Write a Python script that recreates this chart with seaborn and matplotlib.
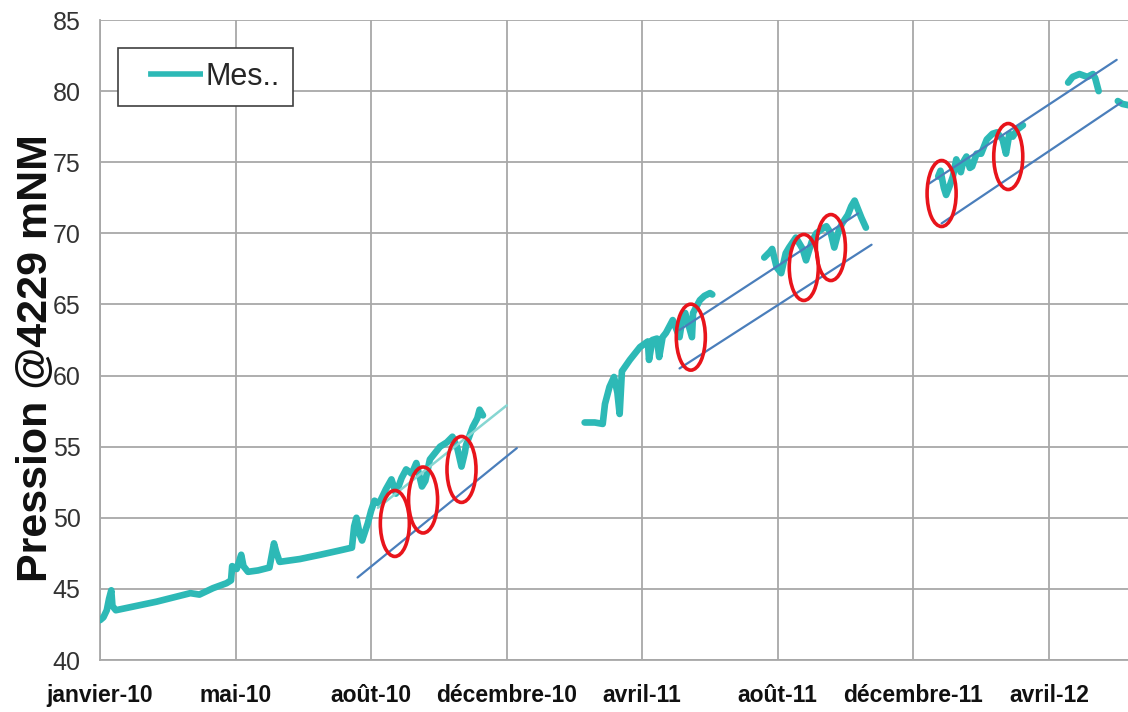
"""
Pression @4229 mNM - mesures et droites de tendance
"""

import pandas as pd
import matplotlib
matplotlib.use("Agg")
import matplotlib.pyplot as plt
import matplotlib.dates as mdates
from matplotlib.lines import Line2D
from matplotlib.patches import Ellipse
import seaborn as sns

sns.set_style("white")
plt.rcParams['font.family'] = ['Liberation Sans', 'DejaVu Sans']

# ---- mesures (par campagne) ----
dates_1 = ['2010-01-01', '2010-01-04', '2010-01-07', '2010-01-09', '2010-01-11', '2010-01-12',
           '2010-01-15', '2010-01-27', '2010-02-20', '2010-03-22', '2010-03-30', '2010-04-11',
           '2010-04-23', '2010-04-27', '2010-04-28', '2010-05-02', '2010-05-06', '2010-05-08',
           '2010-05-12', '2010-05-21', '2010-05-31', '2010-06-04', '2010-06-06', '2010-06-09',
           '2010-06-27', '2010-07-15', '2010-08-01', '2010-08-12', '2010-08-14', '2010-08-16',
           '2010-08-19', '2010-08-21', '2010-08-26', '2010-08-29', '2010-09-01', '2010-09-05',
           '2010-09-11', '2010-09-16', '2010-09-20', '2010-09-25', '2010-09-29', '2010-10-04',
           '2010-10-08', '2010-10-13', '2010-10-16', '2010-10-20', '2010-10-24', '2010-10-29',
           '2010-11-04', '2010-11-09', '2010-11-13', '2010-11-17', '2010-11-20', '2010-11-21',
           '2010-11-27', '2010-12-01', '2010-12-03', '2010-12-06']
pression_1 = [42.8, 43.0, 43.5, 44.3, 44.9, 43.8,
              43.5, 43.7, 44.1, 44.7, 44.6, 45.05,
              45.4, 45.6, 46.6, 46.4, 47.4, 46.6,
              46.2, 46.3, 46.5, 48.2, 47.6, 46.9,
              47.1, 47.4, 47.7, 47.9, 49.4, 50.0,
              48.8, 48.4, 49.6, 50.5, 51.2, 51.0,
              52.0, 52.7, 51.7, 52.8, 53.4, 53.1,
              53.85, 52.2, 52.6, 54.1, 54.5, 55.0,
              55.3, 55.7, 55.0, 53.6, 54.6, 55.1,
              56.4, 57.0, 57.6, 57.2]

dates_2 = ['2011-03-06', '2011-03-15', '2011-03-22', '2011-03-24', '2011-03-28', '2011-04-01',
           '2011-04-04', '2011-04-06', '2011-04-08', '2011-04-15', '2011-04-24', '2011-05-01',
           '2011-05-02', '2011-05-05', '2011-05-09', '2011-05-11', '2011-05-14', '2011-05-17',
           '2011-05-23', '2011-05-29', '2011-06-01', '2011-06-03', '2011-06-09', '2011-06-10',
           '2011-06-16', '2011-06-20', '2011-06-25', '2011-06-27']
pression_2 = [56.7, 56.7, 56.6, 58.0, 59.2, 59.9,
              58.8, 57.3, 60.3, 61.1, 62.0, 62.4,
              61.1, 62.5, 62.6, 61.3, 62.7, 63.0,
              63.9, 62.7, 64.2, 64.4, 62.7, 64.4,
              65.3, 65.6, 65.8, 65.7]

dates_3 = ['2011-08-12', '2011-08-17', '2011-08-19', '2011-08-23', '2011-08-27', '2011-08-31',
           '2011-09-03', '2011-09-09', '2011-09-15', '2011-09-18', '2011-09-23', '2011-09-27',
           '2011-10-02', '2011-10-06', '2011-10-10', '2011-10-13', '2011-10-17', '2011-10-20',
           '2011-10-25', '2011-10-28', '2011-10-31', '2011-11-02', '2011-11-06', '2011-11-10']
pression_3 = [68.3, 68.7, 68.9, 67.6, 67.2, 68.6,
              69.0, 69.7, 68.9, 68.1, 69.4, 70.0,
              70.3, 70.5, 70.0, 69.0, 70.2, 70.7,
              71.3, 71.9, 72.3, 71.9, 71.1, 70.4]

dates_4 = ['2012-01-13', '2012-01-15', '2012-01-18', '2012-01-20', '2012-01-23', '2012-01-26',
           '2012-01-29', '2012-02-02', '2012-02-04', '2012-02-07', '2012-02-10', '2012-02-12',
           '2012-02-16', '2012-02-20', '2012-02-25', '2012-03-01', '2012-03-05', '2012-03-10',
           '2012-03-13', '2012-03-16', '2012-03-19', '2012-03-23', '2012-03-28']
pression_4 = [74.0, 74.4, 73.2, 72.7, 73.3, 74.0,
              75.2, 74.3, 75.0, 75.4, 74.6, 74.7,
              75.6, 75.6, 76.6, 77.0, 77.1, 76.6,
              75.6, 77.0, 76.8, 77.3, 77.6]

dates_5 = ['2012-05-07', '2012-05-11', '2012-05-17', '2012-05-24', '2012-05-29', '2012-05-31', '2012-06-03']
pression_5 = [80.6, 81.0, 81.2, 81.0, 81.2, 80.9, 80.0]

dates_6 = ['2012-06-20', '2012-06-24', '2012-06-30']
pression_6 = [79.3, 79.1, 79.0]

# ---- droites de tendance (debut, fin) ----
tendance_dates = [('2010-08-17', '2011-01-05'), ('2011-05-29', '2011-11-15'),
                  ('2011-05-29', '2011-11-03'), ('2012-01-05', '2012-06-19'),
                  ('2012-01-16', '2012-06-23')]
tendance_valeurs = [(45.8, 54.9), (60.5, 69.2), (63.2, 71.4), (73.5, 82.2), (70.7, 79.2)]
tendance_claire_dates = ('2010-09-04', '2010-12-27')
tendance_claire_valeurs = (50.7, 57.9)

# ---- cercles rouges (centres) ----
cercle_dates = ['2010-09-19', '2010-10-14', '2010-11-17', '2011-06-08',
                '2011-09-16', '2011-10-10', '2012-01-16', '2012-03-15']
cercle_valeurs = [49.6, 51.25, 53.4, 62.7, 67.6, 69.0, 72.8, 75.4]

# ---- axe x ----
tick_dates = ['2010-01-01', '2010-05-01', '2010-08-29', '2010-12-27',
              '2011-04-26', '2011-08-24', '2011-12-22', '2012-04-20']
tick_labels = ['janvier-10', 'mai-10', 'août-10', 'décembre-10',
               'avril-11', 'août-11', 'décembre-11', 'avril-12']

TEAL = '#2DB9B6'
BLUE = '#4A7EBB'
GRID = '#A8A8A8'

segments = [(dates_1, pression_1), (dates_2, pression_2), (dates_3, pression_3),
            (dates_4, pression_4), (dates_5, pression_5), (dates_6, pression_6)]
df = pd.concat([pd.DataFrame({'date': pd.to_datetime(d), 'pression': p, 'segment': i})
                for i, (d, p) in enumerate(segments)], ignore_index=True)

fig = plt.figure(figsize=(11.28, 7.12), dpi=100)
ax = fig.add_axes([100 / 1128, 52 / 712, 1028 / 1128, 640 / 712])

# mesures
sns.lineplot(data=df, x='date', y='pression', units='segment', estimator=None,
             color=TEAL, lw=4.8, ax=ax, legend=False, zorder=3)

# tendances
for (d0, d1), (v0, v1) in zip(tendance_dates, tendance_valeurs):
    ax.plot(pd.to_datetime([d0, d1]), [v0, v1], color=BLUE, lw=1.6, zorder=4)
ax.plot(pd.to_datetime(list(tendance_claire_dates)), list(tendance_claire_valeurs),
        color='#86D6D2', lw=1.8, zorder=4)

# cercles
for d, v in zip(cercle_dates, cercle_valeurs):
    e = Ellipse((mdates.date2num(pd.Timestamp(d)), v), width=25.7, height=4.64,
                fill=False, edgecolor='#E8141B', lw=2.6, zorder=5)
    ax.add_patch(e)

# axes
ax.set_xlim(pd.Timestamp('2010-01-01'), pd.Timestamp('2012-06-29'))
ax.set_ylim(40, 85)
ax.set_yticks(range(40, 86, 5))
ax.set_xticks(pd.to_datetime(tick_dates))
ax.set_xticklabels(tick_labels, fontsize=16.5, fontweight='bold', color='#111111')
ax.tick_params(axis='y', labelsize=18, colors='#333333', length=7, width=1.2, pad=7)
ax.tick_params(axis='x', length=7, width=1.2, color=GRID, pad=10)
ax.tick_params(axis='y', color=GRID)
ax.grid(True, color=GRID, lw=1.3)
for s in ['top', 'right']:
    ax.spines[s].set_visible(False)
for s in ['left', 'bottom']:
    ax.spines[s].set_color(GRID)
    ax.spines[s].set_linewidth(1.3)
ax.set_xlabel('')
ax.set_ylabel('')

fig.text(36 / 1128, 1 - 358 / 712, 'Pression @4229 mNM', rotation=90, fontsize=31,
         fontweight='bold', ha='center', va='center', color='#111111')

# legende : trait precede d'un petit blanc comme dans l'original
handle = Line2D([], [], color=TEAL, lw=4, solid_capstyle='butt',
                linestyle=(0, (0, 2.9, 9.9, 60)), dash_capstyle='butt')
leg = ax.legend(handles=[handle], labels=['Mes..'], loc='upper left',
                bbox_to_anchor=(0.0175, 0.956), fontsize=22, frameon=True,
                fancybox=False, framealpha=1, edgecolor='#404040',
                borderpad=0.45, handlelength=2.33, handletextpad=0.07,
                borderaxespad=0)
leg.get_frame().set_linewidth(1.2)

fig.savefig('out.png', dpi=100)
